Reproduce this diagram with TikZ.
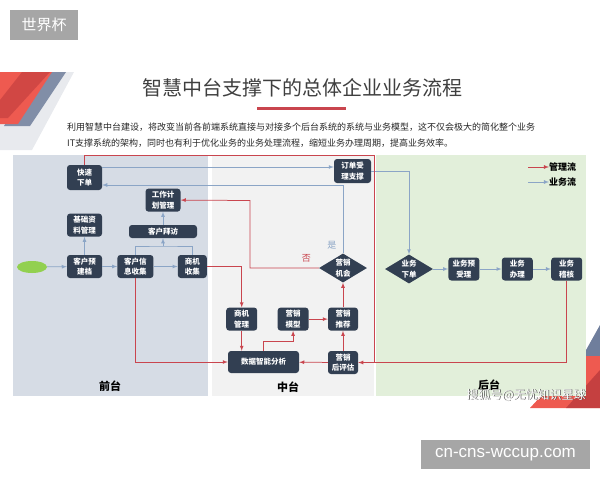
\documentclass[tikz,border=0pt]{standalone}
\usepackage{fontspec}
\setmainfont{Noto Sans CJK SC}
\newfontfamily\urlfont{Liberation Sans}
\usetikzlibrary{shapes, arrows, positioning}

\definecolor{navy}{HTML}{323F52}
\definecolor{frontbg}{HTML}{D6DCE5}
\definecolor{midbg}{HTML}{F2F2F2}
\definecolor{backbg}{HTML}{E2EFDA}
\definecolor{bizblue}{HTML}{8BA5C6}
\definecolor{mgmtred}{HTML}{C9454E}
\definecolor{titlegray}{HTML}{3F3F3F}
\definecolor{tagbg}{HTML}{A6A6A6}
\definecolor{startgreen}{HTML}{92D050}
\definecolor{decored}{HTML}{EE5A50}
\definecolor{decodark}{HTML}{B5363A}
\definecolor{decoblue}{HTML}{6F7E9C}
\definecolor{decogray}{HTML}{D9DCE2}

\begin{document}
\begin{tikzpicture}[x=1pt, y=-1pt,
		stagebox/.style={rectangle, rounded corners=3pt, fill=navy, text=white, inner sep=0pt, minimum width=35pt, minimum height=23pt, align=center, font=\bfseries\fontsize{7.5}{10.5}\selectfont},
		choice/.style={diamond, aspect=1.65, fill=navy, text=white, inner sep=0pt, minimum width=48pt, minimum height=29pt, align=center, font=\bfseries\fontsize{7.5}{10.5}\selectfont},
		tier/.style={font=\bfseries\fontsize{11}{11}\selectfont, text=black},
		legendtext/.style={anchor=west, inner sep=0pt, font=\bfseries\fontsize{9}{9}\selectfont, text=black},
		biz/.style={-latex, draw=bizblue, line width=0.75pt},
		mgmt/.style={-latex, draw=mgmtred, line width=0.75pt},
		mgmtline/.style={draw=mgmtred, line width=0.75pt}
		]
		\useasboundingbox (0,0) rectangle (600,480);
		
		% corner decorations
		\fill[decogray, opacity=0.6] (0,72) -- (74,72) -- (32,150) -- (0,150) -- cycle;
		\fill[decoblue, opacity=0.85] (36,72) -- (66,72) -- (30,126) -- (4,126) -- cycle;
		\fill[decored] (0,72) -- (52,72) -- (18,124) -- (0,124) -- cycle;
		\fill[decodark, opacity=0.5] (22,72) -- (50,72) -- (8,118) -- (0,118) -- (0,100) -- cycle;
		\fill[decoblue] (600,325) -- (600,368) -- (576,368) -- cycle;
		\fill[decored] (530,408) -- (578,356) -- (600,356) -- (600,408) -- cycle;
		\fill[decodark, opacity=0.7] (566,408) -- (600,370) -- (600,408) -- cycle;
		
		% header
		\node[fill=tagbg, text=white, minimum width=68pt, minimum height=30pt, inner sep=0pt, font=\fontsize{15}{15}\selectfont] (tag) at (44,25) {世界杯};
		\node[text=titlegray, font=\fontsize{20}{20}\selectfont] (title) at (302,88) {智慧中台支撑下的总体企业业务流程};
		\fill[mgmtred] (257,106.5) rectangle (346,109.5);
		\node[anchor=west, inner sep=0pt, text=black!85, font=\fontsize{9}{9}\selectfont] (intro1) at (67,127) {利用智慧中台建设，将改变当前各前端系统直接与对接多个后台系统的系统与业务模型，这不仅会极大的简化整个业务};
		\node[anchor=west, inner sep=0pt, text=black!85, font=\fontsize{9}{9}\selectfont] (intro2) at (67,143) {IT支撑系统的架构，同时也有利于优化业务的业务处理流程，缩短业务办理周期，提高业务效率。};
		
		% three tiers
		\fill[frontbg] (13,155) rectangle (208,396);
		\fill[midbg] (212,155) rectangle (374,396);
		\fill[backbg] (376,155) rectangle (586,396);
		\node[tier] (front) at (110,386) {前台};
		\node[tier] (middle) at (288,387) {中台};
		\node[tier] (back) at (489,385) {后台};
		
		% front nodes
		\node[ellipse, fill=startgreen, minimum width=30pt, minimum height=12pt, inner sep=0pt] (start) at (32,267) {};
		\node[stagebox] (yjb) at (84.5,266.5) {客户预\\建档};
		\node[stagebox, minimum width=36pt, right=15pt of yjb] (xxsj) {客户信\\息收集};
		\node[stagebox, minimum width=29pt, right=24pt of xxsj] (sjsj) {商机\\收集};
		\node[stagebox, above=18pt of yjb] (jczl) {基础资\\料管理};
		\node[stagebox, minimum width=68pt, minimum height=13pt] (khbf) at (163,231.5) {客户拜访};
		\node[stagebox, above=13pt of khbf] (gzjh) {工作计\\划管理};
		\node[stagebox, minimum height=25pt] (ksxd) at (84.5,177.5) {快速\\下单};
		
		% middle nodes
		\node[stagebox, minimum width=37pt, minimum height=24pt] (ddsl) at (352.5,171) {订单受\\理支撑};
		\node[choice] (yxjh) at (343,268) {营销\\机会};
		\node[stagebox, minimum width=30pt] (yxpg) at (343,362.5) {营销\\后评估};
		\node[stagebox, minimum width=30pt, above=20pt of yxpg] (yxtj) {营销\\推荐};
		\node[stagebox, minimum width=31pt, left=19pt of yxtj] (yxmx) {营销\\模型};
		\node[stagebox, minimum width=31pt, left=20pt of yxmx] (sjgl) {商机\\管理};
		\node[stagebox, minimum width=71pt, minimum height=22pt] (sjfx) at (263.5,362) {数据智能分析};
		
		% back nodes
		\node[choice] (ywxd) at (409,269) {业务\\下单};
		\node[stagebox, minimum width=31pt, right=15pt of ywxd] (ywys) {业务预\\受理};
		\node[stagebox, minimum width=31pt, right=22pt of ywys] (ywbl) {业务\\办理};
		\node[stagebox, minimum width=31pt, right=18pt of ywbl] (ywjh) {业务\\稽核};
		
		% legend
		\node[legendtext] (lgmgmt) at (549,167) {管理流};
		\node[legendtext] (lgbiz) at (549,182) {业务流};
		\coordinate (lgmgmts) at (528,167);
		\coordinate (lgbizs) at (528,182);
		\draw[mgmt] (lgmgmts) -- (lgmgmt.west);
		\draw[biz] (lgbizs) -- (lgbiz.west);
		
		% business flow
		\draw[biz] (start) -- (yjb);
		\draw[biz] (yjb) -- (xxsj);
		\draw[biz] (xxsj) -- (sjsj);
		\draw[biz] (yjb) -- (jczl);
		\coordinate (visit) at (163,246);
		\draw[bizblue, line width=0.75pt] (xxsj.north) |- (visit) -| (sjsj.north);
		\draw[biz] (visit) -- (khbf);
		\draw[biz] (khbf) -- (gzjh);
		\draw[biz] ([yshift=10.5pt]ksxd.east) -- ([yshift=10.5pt]ksxd.east -| ddsl.west);
		\draw[biz] (yxjh.north) |- node[pos=0.06, left=3pt, text=bizblue, font=\fontsize{9}{9}\selectfont]{是} ([yshift=-7.5pt]ksxd.east);
		\draw[biz] (ddsl.east) -| (ywxd.north);
		\draw[biz] (ywxd) -- (ywys);
		\draw[biz] (ywys) -- (ywbl);
		\draw[biz] (ywbl) -- (ywjh);
		
		% management flow
		\coordinate (nobend) at (250,200.5);
		\draw[mgmt] (yxjh.west) -| node[pos=0.09, above=2pt, text=mgmtred, font=\fontsize{9}{9}\selectfont]{否} (nobend) -- (gzjh.east);
		\draw[mgmt] (sjsj.east) -| (sjgl.north);
		\draw[mgmt] (xxsj.south) |- (sjfx.west);
		\draw[mgmt] (sjgl) -- (sjgl |- sjfx.north);
		\draw[mgmt] (sjfx.north) -- ++(0,-9) -| (yxmx.south);
		\draw[mgmt] (yxmx) -- (yxtj);
		\draw[mgmt] (yxtj) -- (yxjh);
		\draw[mgmt] (yxpg) -- (yxtj);
		\draw[mgmt] (yxpg) -- (sjfx);
		\draw[mgmt] (ywjh.south) |- (yxpg.east);
		\coordinate (loop) at (374,155);
		\draw[mgmtline] (ksxd.north) |- (loop) -- (loop |- yxpg.east);
		
		% footer
		\node[text=black!70, font=\fontsize{12}{12}\selectfont] (markshade) at (526.7,395.7) {搜狐号@无忧知识星球};
		\node[text=white, font=\fontsize{12}{12}\selectfont] (mark) at (526,395) {搜狐号@无忧知识星球};
		\node[fill=tagbg, text=white, minimum width=169pt, minimum height=29pt, inner sep=0pt, font=\urlfont\fontsize{17}{17}\selectfont] (site) at (505.5,454.5) {cn-cns-wccup.com};
		
	\end{tikzpicture}
\end{document}
